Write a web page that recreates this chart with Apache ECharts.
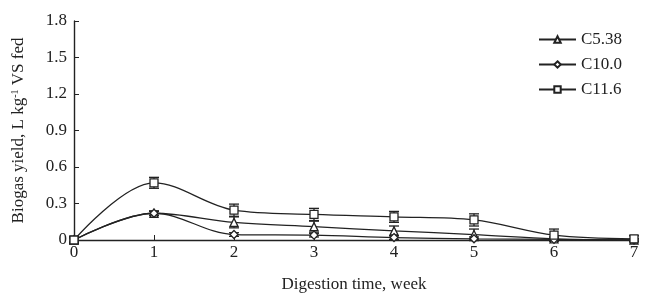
<!DOCTYPE html>
<html>
<head>
<meta charset="utf-8">
<script src="https://cdn.jsdelivr.net/npm/echarts@6/dist/echarts.min.js"></script>
<style>
  html, body { margin: 0; padding: 0; background: #fff; }
  #main { width: 645px; height: 298px; }
</style>
</head>
<body>
<div id="main"></div>
<script>
// weeks of digestion
var weeks = [0, 1, 2, 3, 4, 5, 6, 7];
var yTicks = [0, 0.3, 0.6, 0.9, 1.2, 1.5, 1.8];

// biogas yield, L/kg VS fed
var c538 = [0, 0.22, 0.145, 0.11, 0.075, 0.045, 0.01, 0];
var c100 = [0, 0.22, 0.045, 0.04, 0.02, 0.01, 0.005, 0];
var c116 = [0, 0.47, 0.245, 0.21, 0.19, 0.165, 0.04, 0.01];

// error bar half widths
var c538Err = [0.02, 0.02, 0.045, 0.045, 0.04, 0.045, 0.015, 0.01];
var c100Err = [0.01, 0.015, 0.015, 0.015, 0.015, 0.015, 0.01, 0.01];
var c116Err = [0.03, 0.045, 0.05, 0.05, 0.045, 0.05, 0.05, 0.025];

var font = 'Liberation Serif';
var myChart = echarts.init(document.getElementById('main'));

function pairs(vals) {
    return weeks.map(function (w, i) { return [w, vals[i]]; });
}
function errData(vals, errs) {
    return weeks.map(function (w, i) { return [w, vals[i] - errs[i], vals[i] + errs[i]]; });
}

function renderErr(params, api) {
    var x = api.value(0);
    var lo = api.coord([x, api.value(1)]);
    var hi = api.coord([x, api.value(2)]);
    var w = 5;
    var style = { stroke: '#222', lineWidth: 1.3, fill: null };
    return {
        type: 'group',
        children: [
            { type: 'line', shape: { x1: lo[0], y1: lo[1], x2: hi[0], y2: hi[1] }, style: style },
            { type: 'line', shape: { x1: lo[0] - w, y1: lo[1], x2: lo[0] + w, y2: lo[1] }, style: style },
            { type: 'line', shape: { x1: hi[0] - w, y1: hi[1], x2: hi[0] + w, y2: hi[1] }, style: style }
        ]
    };
}

function lineSeries(name, vals, symbol, size) {
    return {
        name: name,
        type: 'line',
        data: pairs(vals),
        smooth: 0.35,
        symbol: symbol,
        symbolSize: size,
        showAllSymbol: true,
        z: 3,
        lineStyle: { color: '#222', width: 1.3 },
        itemStyle: { color: '#fff', borderColor: '#222', borderWidth: 1.3 },
        emphasis: { disabled: true }
    };
}

function errSeries(vals, errs) {
    return {
        type: 'custom',
        data: errData(vals, errs),
        renderItem: renderErr,
        encode: { x: 0, y: [1, 2] },
        z: 2,
        silent: true
    };
}

var diamond = 'path://M0,-1L1,0L0,1L-1,0Z';

var option = {
    backgroundColor: '#fff',
    animation: false,
    textStyle: { fontFamily: font },
    grid: { left: 74, right: 11, top: 21, bottom: 56 },
    legend: {
        left: 533,
        top: 26,
        orient: 'vertical',
        itemGap: 8,
        itemWidth: 37,
        itemHeight: 8,
        textStyle: { fontFamily: font, fontSize: 17, color: '#222' },
        data: ['C5.38', 'C10.0', 'C11.6']
    },
    xAxis: {
        type: 'value',
        min: 0,
        max: 7,
        interval: 1,
        name: 'Digestion time, week',
        nameLocation: 'middle',
        nameGap: 36,
        nameTextStyle: { fontFamily: font, fontSize: 17, color: '#222' },
        axisLine: { onZero: false, lineStyle: { color: '#222', width: 1.4 } },
        axisTick: { inside: true, length: 5, lineStyle: { color: '#222' } },
        axisLabel: { fontFamily: font, fontSize: 17, color: '#222', margin: 4 },
        splitLine: { show: false }
    },
    yAxis: {
        type: 'value',
        min: yTicks[0],
        max: yTicks[yTicks.length - 1],
        interval: 0.3,
        name: '{a|Biogas yield, L kg}{s|-1}{a| VS fed}',
        nameLocation: 'middle',
        nameGap: 46,
        nameTextStyle: {
            rich: {
                a: { fontFamily: font, fontSize: 17, color: '#222', lineHeight: 18 },
                s: { fontFamily: font, fontSize: 10, color: '#222', verticalAlign: 'top', lineHeight: 18 }
            }
        },
        axisLine: { show: true, lineStyle: { color: '#222', width: 1.4 } },
        axisTick: { show: true, inside: true, length: 5, lineStyle: { color: '#222' } },
        axisLabel: {
            fontFamily: font, fontSize: 17, color: '#222', margin: 7,
            formatter: function (v) { return v === 0 ? '0' : v.toFixed(1); }
        },
        splitLine: { show: false }
    },
    series: [
        errSeries(c538, c538Err),
        errSeries(c100, c100Err),
        errSeries(c116, c116Err),
        lineSeries('C5.38', c538, 'triangle', 8),
        lineSeries('C10.0', c100, diamond, 8),
        lineSeries('C11.6', c116, 'rect', 8)
    ]
};

myChart.setOption(option, true);
</script>
</body>
</html>
